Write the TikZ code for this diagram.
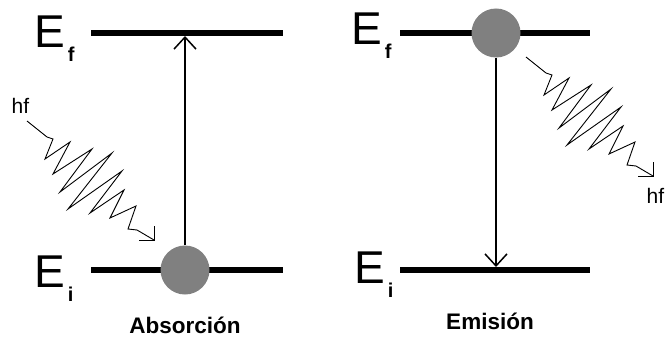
\documentclass[tikz,border=0pt]{standalone}
\usepackage{fontspec}
\setmainfont{Liberation Sans}
\usetikzlibrary{arrows.meta,positioning}

% energy label with a bold subscript
\newcommand{\Elevel}[1]{E\kern2.5pt\raisebox{-14pt}{\fontsize{20}{20}\selectfont\bfseries #1}}

\begin{document}
\begin{tikzpicture}[
    x=1pt, y=1pt,
    level/.style={line width=6.5pt},
    electron/.style={circle, fill=black!50, minimum size=49pt, inner sep=0pt},
    transition/.style={line width=1.5pt, -{Straight Barb[length=12pt,width=22pt]}, shorten >=3pt},
    energy/.style={anchor=base west, inner sep=0pt, font=\fontsize{46}{46}\selectfont},
    hflabel/.style={anchor=base west, inner sep=0pt, font=\fontsize{21}{21}\selectfont},
    caption/.style={anchor=base, inner sep=0pt, font=\fontsize{22.5}{24}\selectfont\bfseries},
    photon/.pic={
        \draw[line width=0.9pt] (0,0) -- (20,-16) -- (26,-18) -- (18,-38) -- (43,-21)
            -- (26,-53) -- (65,-28) -- (33,-71) -- (85,-32) -- (41,-88) -- (95,-50)
            -- (63,-92) -- (97,-69) -- (83,-97) -- (109,-85) -- (101,-108)
            -- (110,-109) -- (127,-119);
        \draw[line width=0.9pt] (127,-105) -- (127,-119) -- (112,-119);
    }
]
\useasboundingbox (0,0) rectangle (669,338);

% absorption
\coordinate (absFw) at (91,305);
\coordinate (absFe) at (283,305);
\coordinate (absIw) at (91,68);
\coordinate (absIe) at (283,68);
\draw[level] (absFw) -- (absFe);
\draw[level] (absIw) -- (absIe);
\node[energy] (absEf) at (34.5,290) {\Elevel{f}};
\node[energy] (absEi) at (34.5,51) {\Elevel{i}};
\node[electron] (abs) at (185,68) {};
\draw[transition] (abs.north) -- (abs.north |- absFw);
\pic (absPh) at (27,217) {photon};
\node[hflabel] (absHf) at (11.5,225) {hf};
\node[caption] (absCap) at (185,5) {Absorción};

% emission
\coordinate (emiFw) at (400,305);
\coordinate (emiFe) at (590,305);
\coordinate (emiIw) at (400,68);
\coordinate (emiIe) at (590,68);
\draw[level] (emiFw) -- (emiFe);
\draw[level] (emiIw) -- (emiIe);
\node[energy] (emiEf) at (351.5,293) {\Elevel{f}};
\node[energy] (emiEi) at (354.5,55) {\Elevel{i}};
\node[electron] (emi) at (496,305) {};
\draw[transition] (emi.south) -- (emi.south |- emiIw);
\pic (emiPh) at (526,281) {photon};
\node[hflabel] (emiHf) at (646.5,135) {hf};
\node[caption] (emiCap) at (490,9) {Emisión};
\end{tikzpicture}
\end{document}
